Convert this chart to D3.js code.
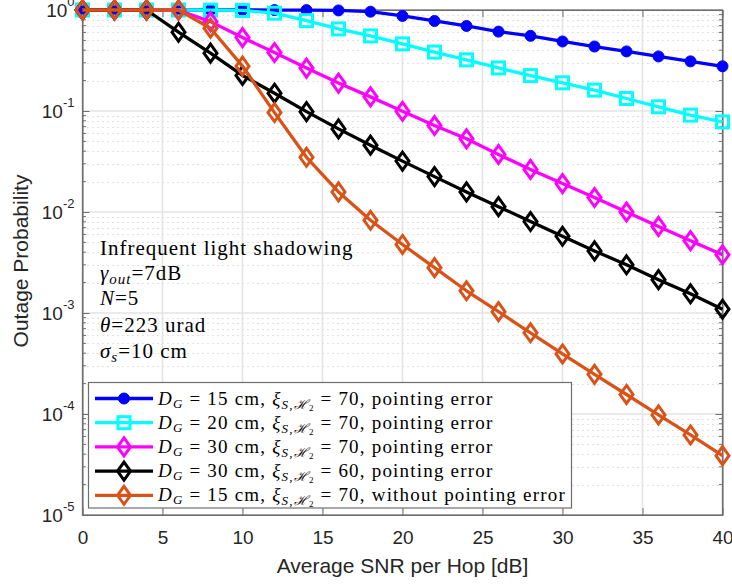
<!DOCTYPE html>
<meta charset="utf-8">
<style>
body { margin: 0; background: #fff; }
.axis text { font-family: "Liberation Sans", Arial, sans-serif; fill: #262626; }
.axis path, .axis line { stroke: #6e6e6e; }
.serif { font-family: "Liberation Serif", "Times New Roman", serif; fill: #000; }
</style>
<body>
<script src="https://d3js.org/d3.v7.min.js"></script>
<script>

// data
var snr = [0, 2, 4, 6, 8, 10, 12, 14, 16, 18, 20, 22, 24, 26, 28, 30, 32, 34, 36, 38, 40];

var dg15 = [1, 1, 1, 1, 1, 1, 0.999, 0.998, 0.99, 0.962, 0.873, 0.779, 0.695, 0.611,
            0.555, 0.488, 0.435, 0.389, 0.347, 0.31, 0.277];
var dg20 = [1, 1, 1, 1, 0.998, 0.99, 0.93, 0.785, 0.65, 0.554, 0.462, 0.383, 0.321, 0.267,
            0.224, 0.19, 0.161, 0.133, 0.11, 0.091, 0.078];
var dg30 = [1, 1, 1, 0.995, 0.767, 0.533, 0.379, 0.266, 0.189, 0.138, 0.0993, 0.0718, 0.053,
            0.0371, 0.0264, 0.0191, 0.0139, 0.01, 0.0072, 0.0052, 0.00377];
var dg30xi60 = [1, 1, 1, 0.603, 0.374, 0.225, 0.15, 0.0985, 0.0665, 0.0459, 0.0319, 0.0224,
                0.0158, 0.0113, 0.00805, 0.00575, 0.00412, 0.003, 0.00214, 0.00155, 0.00109];
var noPointing = [1, 1, 1, 1, 0.66, 0.278, 0.0965, 0.0348, 0.0158, 0.00828, 0.00477, 0.00281,
                  0.00166, 0.00103, 0.000637, 0.000393, 0.000247, 0.000156, 0.000098, 0.000062, 0.0000387];

var legendDg = ["15", "20", "30", "30", "15"];
var legendXi = ["70", "70", "70", "60", "70"];
var legendTail = ["pointing error", "pointing error", "pointing error", "pointing error", "without pointing error"];

var xTicks = [0, 5, 10, 15, 20, 25, 30, 35, 40];
var yTicks = [1e-5, 1e-4, 1e-3, 1e-2, 1e-1, 1];
var yTickExp = ["-5", "-4", "-3", "-2", "-1", "0"];

var series = [
  {values: dg15, color: "#0000ff", marker: "circle"},
  {values: dg20, color: "#00ffff", marker: "square"},
  {values: dg30, color: "#ff00ff", marker: "diamond"},
  {values: dg30xi60, color: "#000000", marker: "diamond"},
  {values: noPointing, color: "#d95319", marker: "diamond"}
];

// plot box
var pLeft = 82.5, pTop = 10, pRight = 722.5, pBottom = 515;

var svg = d3.select("body").append("svg")
    .attr("width", 732)
    .attr("height", 585);

var x = d3.scaleLinear().domain([0, 40]).range([pLeft, pRight]);
var y = d3.scaleLog().domain([1e-5, 1]).range([pBottom, pTop]);

// minor y grid (dotted)
var minor = [];
for (var e = -5; e < 0; e++) {
  for (var m = 2; m <= 9; m++) minor.push(m * Math.pow(10, e));
}

svg.append("g").selectAll("line").data(minor).enter().append("line")
    .attr("x1", pLeft).attr("x2", pRight)
    .attr("y1", d => Math.round(y(d)) + 0.5).attr("y2", d => Math.round(y(d)) + 0.5)
    .attr("stroke", "#c4c4c4").attr("stroke-width", 1)
    .attr("stroke-dasharray", "1,4");

// major grid
svg.append("g").selectAll("line").data(xTicks.slice(1, -1)).enter().append("line")
    .attr("x1", d => x(d)).attr("x2", d => x(d))
    .attr("y1", pTop).attr("y2", pBottom)
    .attr("stroke", "#e3e3e3").attr("stroke-width", 1.5);
svg.append("g").selectAll("line").data(yTicks.slice(1, -1)).enter().append("line")
    .attr("x1", pLeft).attr("x2", pRight)
    .attr("y1", d => y(d)).attr("y2", d => y(d))
    .attr("stroke", "#e3e3e3").attr("stroke-width", 1.5);

// axes (ticks pointing inward)
var gx = svg.append("g").attr("class", "axis")
    .attr("transform", "translate(0," + pBottom + ")")
    .call(d3.axisBottom(x).tickValues(xTicks).tickSize(-7).tickPadding(16).tickSizeOuter(0));
gx.selectAll("text").attr("font-size", 19).attr("dy", "0.71em");

svg.append("g").attr("class", "axis")
    .attr("transform", "translate(0," + pTop + ")")
    .call(d3.axisTop(x).tickValues(xTicks).tickSize(-7).tickFormat("").tickSizeOuter(0));

var gy = svg.append("g").attr("class", "axis")
    .attr("transform", "translate(" + pLeft + ",0)")
    .call(d3.axisLeft(y).tickValues(yTicks).tickSize(-7).tickSizeOuter(0).tickFormat(""));

gy.selectAll(".tick").each(function(d, i) {
  var t = d3.select(this).append("text")
      .attr("x", -8).attr("dy", "0.62em")
      .attr("text-anchor", "end");
  t.append("tspan").attr("font-size", 19).text("10");
  t.append("tspan").attr("font-size", 13).attr("dy", "-0.85em").text(yTickExp[i]);
});

svg.append("g").attr("class", "axis")
    .attr("transform", "translate(" + pRight + ",0)")
    .call(d3.axisRight(y).tickValues(yTicks).tickSize(-7).tickSizeOuter(0).tickFormat(""));

// minor y ticks both sides
svg.append("g").selectAll("line").data(minor).enter().append("line")
    .attr("x1", pLeft).attr("x2", pLeft + 3.5)
    .attr("y1", d => y(d)).attr("y2", d => y(d))
    .attr("stroke", "#6e6e6e");
svg.append("g").selectAll("line").data(minor).enter().append("line")
    .attr("x1", pRight).attr("x2", pRight - 3.5)
    .attr("y1", d => y(d)).attr("y2", d => y(d))
    .attr("stroke", "#6e6e6e");

// box
svg.append("rect")
    .attr("x", pLeft).attr("y", pTop)
    .attr("width", pRight - pLeft).attr("height", pBottom - pTop)
    .attr("fill", "none").attr("stroke", "#6e6e6e").attr("stroke-width", 1.3);

// axis titles
svg.append("text")
    .attr("x", (pLeft + pRight) / 2).attr("y", 573)
    .attr("text-anchor", "middle")
    .attr("font-family", "Liberation Sans, Arial, sans-serif")
    .attr("font-size", 21).attr("fill", "#262626")
    .text("Average SNR per Hop [dB]");

svg.append("text")
    .attr("transform", "translate(28,261) rotate(-90)")
    .attr("text-anchor", "middle")
    .attr("font-family", "Liberation Sans, Arial, sans-serif")
    .attr("font-size", 21).attr("fill", "#262626")
    .text("Outage Probability");

// markers
function drawMarker(sel, kind, color) {
  if (kind === "circle") {
    sel.append("circle").attr("r", 5.5).attr("fill", color).attr("stroke", color);
  } else if (kind === "square") {
    sel.append("rect").attr("x", -6).attr("y", -6).attr("width", 12).attr("height", 12)
        .attr("fill", "none").attr("stroke", color).attr("stroke-width", 3);
  } else {
    sel.append("path").attr("d", "M0,-9L6.5,0L0,9L-6.5,0Z")
        .attr("fill", "none").attr("stroke", color).attr("stroke-width", 3);
  }
}

var line = d3.line()
    .x((d, i) => x(snr[i]))
    .y(d => y(d));

series.forEach(function(s) {
  var g = svg.append("g");
  g.append("path")
      .datum(s.values)
      .attr("fill", "none")
      .attr("stroke", s.color)
      .attr("stroke-width", 3.3)
      .attr("stroke-linejoin", "round")
      .attr("d", line);
  g.selectAll("g.pt").data(s.values).enter().append("g")
      .attr("class", "pt")
      .attr("transform", (d, i) => "translate(" + x(snr[i]) + "," + y(d) + ")")
      .each(function() { drawMarker(d3.select(this), s.marker, s.color); });
});

// annotation
var ann = svg.append("g").attr("class", "serif").attr("font-size", 21).attr("letter-spacing", 1);
ann.append("text").attr("x", 100).attr("y", 255).text("Infrequent light shadowing");
var t2 = ann.append("text").attr("x", 100).attr("y", 280);
t2.append("tspan").attr("font-style", "italic").text("γ");
t2.append("tspan").attr("font-style", "italic").attr("font-size", 15).attr("dy", 4).text("out");
t2.append("tspan").attr("dy", -4).text("=7dB");
var t3 = ann.append("text").attr("x", 100).attr("y", 305);
t3.append("tspan").attr("font-style", "italic").text("N");
t3.append("tspan").text("=5");
var t4 = ann.append("text").attr("x", 100).attr("y", 331.5);
t4.append("tspan").attr("font-style", "italic").text("θ");
t4.append("tspan").text("=223 urad");
var t5 = ann.append("text").attr("x", 100).attr("y", 358);
t5.append("tspan").attr("font-style", "italic").text("σ");
t5.append("tspan").attr("font-style", "italic").attr("font-size", 15).attr("dy", 4).text("s");
t5.append("tspan").attr("dy", -4).text("=10 cm");

// legend
var lg = svg.append("g");
lg.append("rect")
    .attr("x", 88.5).attr("y", 382.5)
    .attr("width", 483).attr("height", 125.5)
    .attr("fill", "#fff").attr("stroke", "#6e6e6e").attr("stroke-width", 1.2);

series.forEach(function(s, i) {
  var cy = 398.5 + i * 24.2;
  var row = lg.append("g");
  row.append("line")
      .attr("x1", 95).attr("x2", 153)
      .attr("y1", cy).attr("y2", cy)
      .attr("stroke", s.color).attr("stroke-width", 3.3);
  drawMarker(row.append("g").attr("transform", "translate(124," + cy + ")"), s.marker, s.color);

  var t = row.append("text").attr("class", "serif")
      .attr("x", 158).attr("y", cy + 6).attr("font-size", 19).attr("letter-spacing", 1.2);
  t.append("tspan").attr("font-style", "italic").text("D");
  t.append("tspan").attr("font-style", "italic").attr("font-size", 13).attr("dy", 3).text("G");
  t.append("tspan").attr("dy", -3).text(" = " + legendDg[i] + " cm, ");
  t.append("tspan").attr("font-style", "italic").text("ξ");
  t.append("tspan").attr("font-style", "italic").attr("font-size", 13).attr("dy", 4).text("S,");
  t.append("tspan").attr("font-style", "italic").attr("font-size", 13).text("ℋ");
  t.append("tspan").attr("font-size", 9).attr("dy", 2).text("2");
  t.append("tspan").attr("dy", -6).text(" = " + legendXi[i] + ", " + legendTail[i]);
});

</script>
</body>
